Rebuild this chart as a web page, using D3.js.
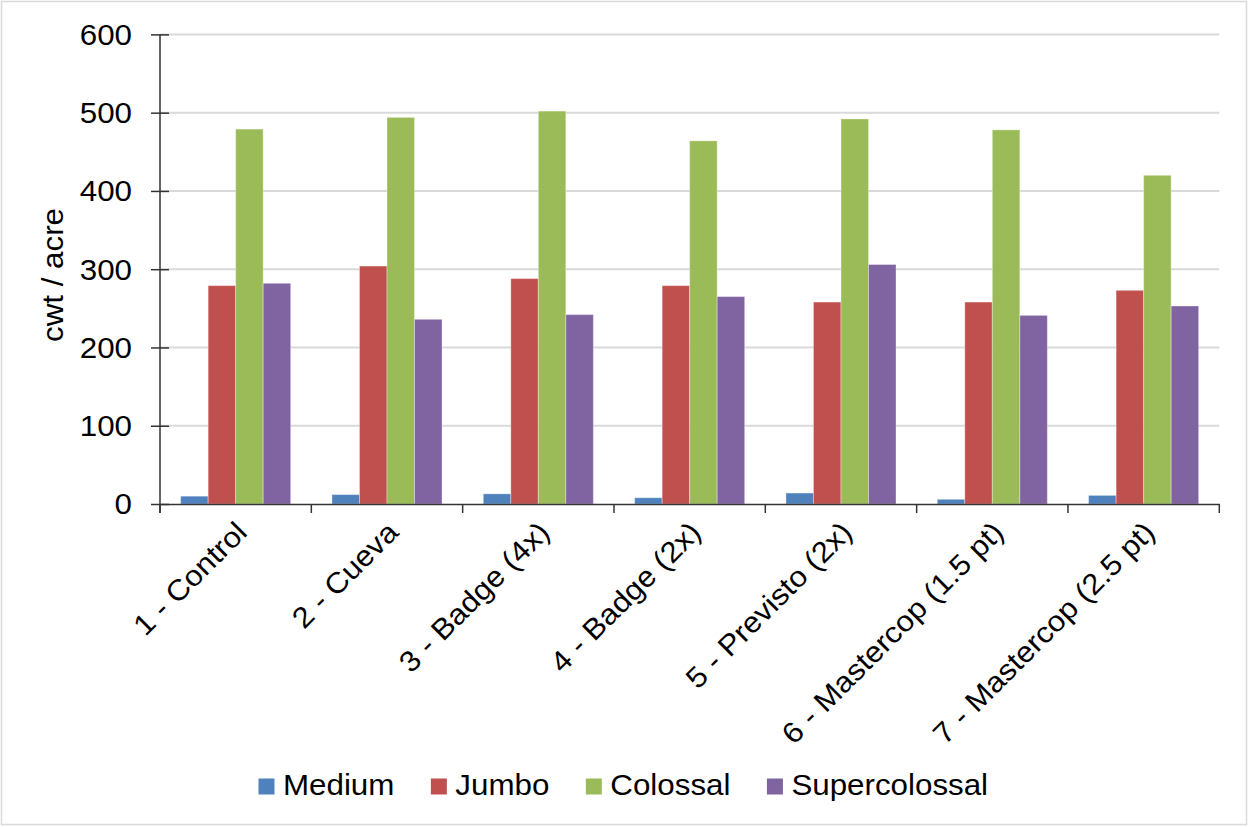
<!DOCTYPE html>
<html>
<head>
<meta charset="utf-8">
<script src="https://cdn.jsdelivr.net/npm/d3@7"></script>
<style>
  html, body { margin: 0; padding: 0; background: #fff; }
  svg { display: block; }
  text { font-family: "Liberation Sans", Arial, sans-serif; fill: #000; }
</style>
</head>
<body>
<svg id="chart" width="1249" height="827"></svg>
<script>
// Yield by size class for each treatment (cwt / acre)
const categories = [
  "1 - Control", "2 - Cueva", "3 - Badge (4x)", "4 - Badge (2x)",
  "5 - Previsto (2x)", "6 - Mastercop (1.5 pt)", "7 - Mastercop (2.5 pt)"
];
const seriesNames = ["Medium", "Jumbo", "Colossal", "Supercolossal"];
const medium        = [10, 12, 13, 8, 14, 6, 11];
const jumbo         = [279, 304, 288, 279, 258, 258, 273];
const colossal      = [479, 494, 502, 464, 492, 478, 420];
const supercolossal = [282, 236, 242, 265, 306, 241, 253];
const seriesColors  = ["#4F81BD", "#C0504D", "#9BBB59", "#8064A2"];
const yTicks = [0, 100, 200, 300, 400, 500, 600];
const yTitle = "cwt / acre";

const seriesValues = [medium, jumbo, colossal, supercolossal];
const rows = categories.map((c, i) => ({
  category: c,
  values: seriesNames.map((s, k) => ({ series: s, value: seriesValues[k][i], color: seriesColors[k] }))
}));

const svg = d3.select("#chart");
const FONT = 29, SX = 1.08;           // label size and horizontal glyph stretch
const plot = { left: 160, right: 1219.3, top: 34.4, bottom: 504 };

// Outer chart frame
svg.append("rect")
  .attr("x", 1.5).attr("y", 1.5).attr("width", 1245).attr("height", 823)
  .attr("fill", "#fff").attr("stroke", "#D9D9D9").attr("stroke-width", 1.5);

const x0 = d3.scaleBand().domain(categories).range([plot.left, plot.right]);
const x1 = d3.scaleBand().domain(seriesNames).range([0, x0.bandwidth()]).paddingOuter(0.75);
const y = d3.scaleLinear().domain([0, 600]).range([plot.bottom, plot.top]);

// Horizontal gridlines
svg.append("g")
  .selectAll("line")
  .data(yTicks.filter(t => t > 0))
  .join("line")
  .attr("x1", plot.left).attr("x2", plot.right)
  .attr("y1", d => y(d)).attr("y2", d => y(d))
  .attr("stroke", "#D9D9D9").attr("stroke-width", 2);

// Bars
const groups = svg.append("g")
  .selectAll("g")
  .data(rows)
  .join("g")
  .attr("transform", d => `translate(${x0(d.category)},0)`);

groups.selectAll("rect")
  .data(d => d.values)
  .join("rect")
  .attr("x", d => x1(d.series))
  .attr("width", x1.bandwidth())
  .attr("y", d => y(d.value))
  .attr("height", d => y(0) - y(d.value))
  .attr("fill", d => d.color)
  .attr("stroke", "rgba(255,255,255,0.35)")
  .attr("stroke-width", 1);

// Y axis: line and cross ticks
const yAxis = svg.append("g")
  .attr("transform", `translate(${plot.left},0)`)
  .call(d3.axisLeft(y).tickValues(yTicks).tickSizeOuter(0).tickSizeInner(9).tickFormat(""));
yAxis.select(".domain").attr("stroke", "#333").attr("stroke-width", 1.5)
  .attr("d", `M0,${plot.top}V${plot.bottom + 9}`);
yAxis.selectAll(".tick line").attr("x1", 9).attr("x2", -9).attr("stroke", "#333").attr("stroke-width", 1.5);

// Y tick labels
svg.append("g")
  .selectAll("text")
  .data(yTicks)
  .join("text")
  .attr("transform", d => `translate(${plot.left - 28},${y(d)}) scale(${SX},1)`)
  .attr("text-anchor", "end")
  .attr("dy", "0.36em")
  .attr("font-size", FONT)
  .text(d => d);

// X axis line and category boundary ticks
const xAxis = svg.append("g")
  .attr("transform", `translate(0,${plot.bottom})`)
  .call(d3.axisBottom(x0).tickSize(0).tickFormat(""));
xAxis.select(".domain").attr("stroke", "#333").attr("stroke-width", 1.5);
const boundaries = categories.map(c => x0(c)).concat([x0(categories[categories.length - 1]) + x0.bandwidth()]);
svg.append("g")
  .selectAll("line")
  .data(boundaries)
  .join("line")
  .attr("x1", d => d).attr("x2", d => d)
  .attr("y1", plot.bottom).attr("y2", plot.bottom + 9)
  .attr("stroke", "#333").attr("stroke-width", 1.5);

// Rotated category labels
svg.append("g")
  .selectAll("text")
  .data(categories)
  .join("text")
  .attr("transform", d => `translate(${x0(d) + x0.bandwidth() / 2 + 13},${plot.bottom + 30}) rotate(-45) scale(${SX},1)`)
  .attr("text-anchor", "end")
  .attr("font-size", FONT)
  .text(d => d);

// Y axis title
svg.append("text")
  .attr("transform", `translate(62.5,275) rotate(-90) scale(${SX},1)`)
  .attr("text-anchor", "middle")
  .attr("font-size", FONT)
  .text(yTitle);

// Legend
const legend = svg.append("g");
let lx = 258.5;
seriesNames.forEach((s, k) => {
  legend.append("rect")
    .attr("x", lx).attr("y", 778.5).attr("width", 16).attr("height", 16)
    .attr("fill", seriesColors[k]);
  const tx = lx + 24.5;
  const t = legend.append("text")
    .attr("transform", `translate(${tx},795) scale(${SX},1)`)
    .attr("font-size", FONT)
    .text(s);
  const w = t.node().getComputedTextLength() * SX;
  lx = tx + w + 36.5;
});
</script>
</body>
</html>
